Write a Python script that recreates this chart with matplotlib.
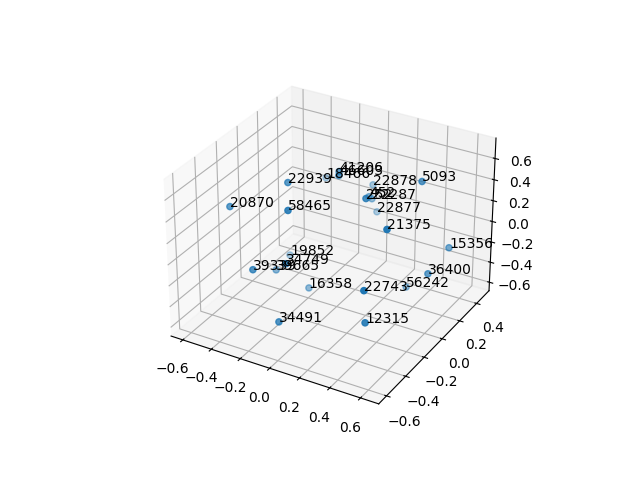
import matplotlib
matplotlib.use('Agg')
import matplotlib.pyplot as plt

labels = ['12315', '34491', '22743', '16358', '39339', '39665', '34749', '19852',
          '56242', '36400', '15356', '21375', '22877', '252', '452', '22287',
          '22878', '5093', '22939', '58465', '20870', '18466', '41206', '46603']
xs = [0.511, -0.017, 0.540, -0.181, -0.225, -0.348, 0.036, -0.483,
      0.324, 0.593, 0.593, 0.546, -0.078, 0.271, 0.026, -0.014,
      -0.108, 0.453, -0.215, -0.043, -0.492, -0.444, -0.025, -0.002]
ys = [-0.499, -0.560, -0.560, -0.020, -0.507, -0.111, -0.560, 0.225,
      0.247, 0.032, 0.266, -0.342, 0.560, -0.120, 0.302, 0.399,
      0.560, 0.180, -0.172, -0.421, -0.345, 0.560, 0.062, 0.024]
zs = [-0.181, -0.354, 0.182, -0.560, 0.006, -0.376, 0.215, -0.560,
      -0.560, -0.136, -0.078, 0.560, -0.227, 0.560, 0.160, 0.051,
      0.030, 0.560, 0.560, 0.560, 0.361, -0.028, 0.560, 0.560]

fig = plt.figure(figsize=(6.4, 4.8), dpi=100)
ax = fig.add_subplot(projection='3d')
ax.scatter(xs, ys, zs)
for x, y, z, label in zip(xs, ys, zs, labels):
    ax.text(x, y, z, label)
ax.set_xlim(-0.683, 0.717)
ax.set_ylim(-0.68, 0.55)
ax.set_zlim(-0.685, 0.79)

plt.savefig('out.png', dpi=100)
